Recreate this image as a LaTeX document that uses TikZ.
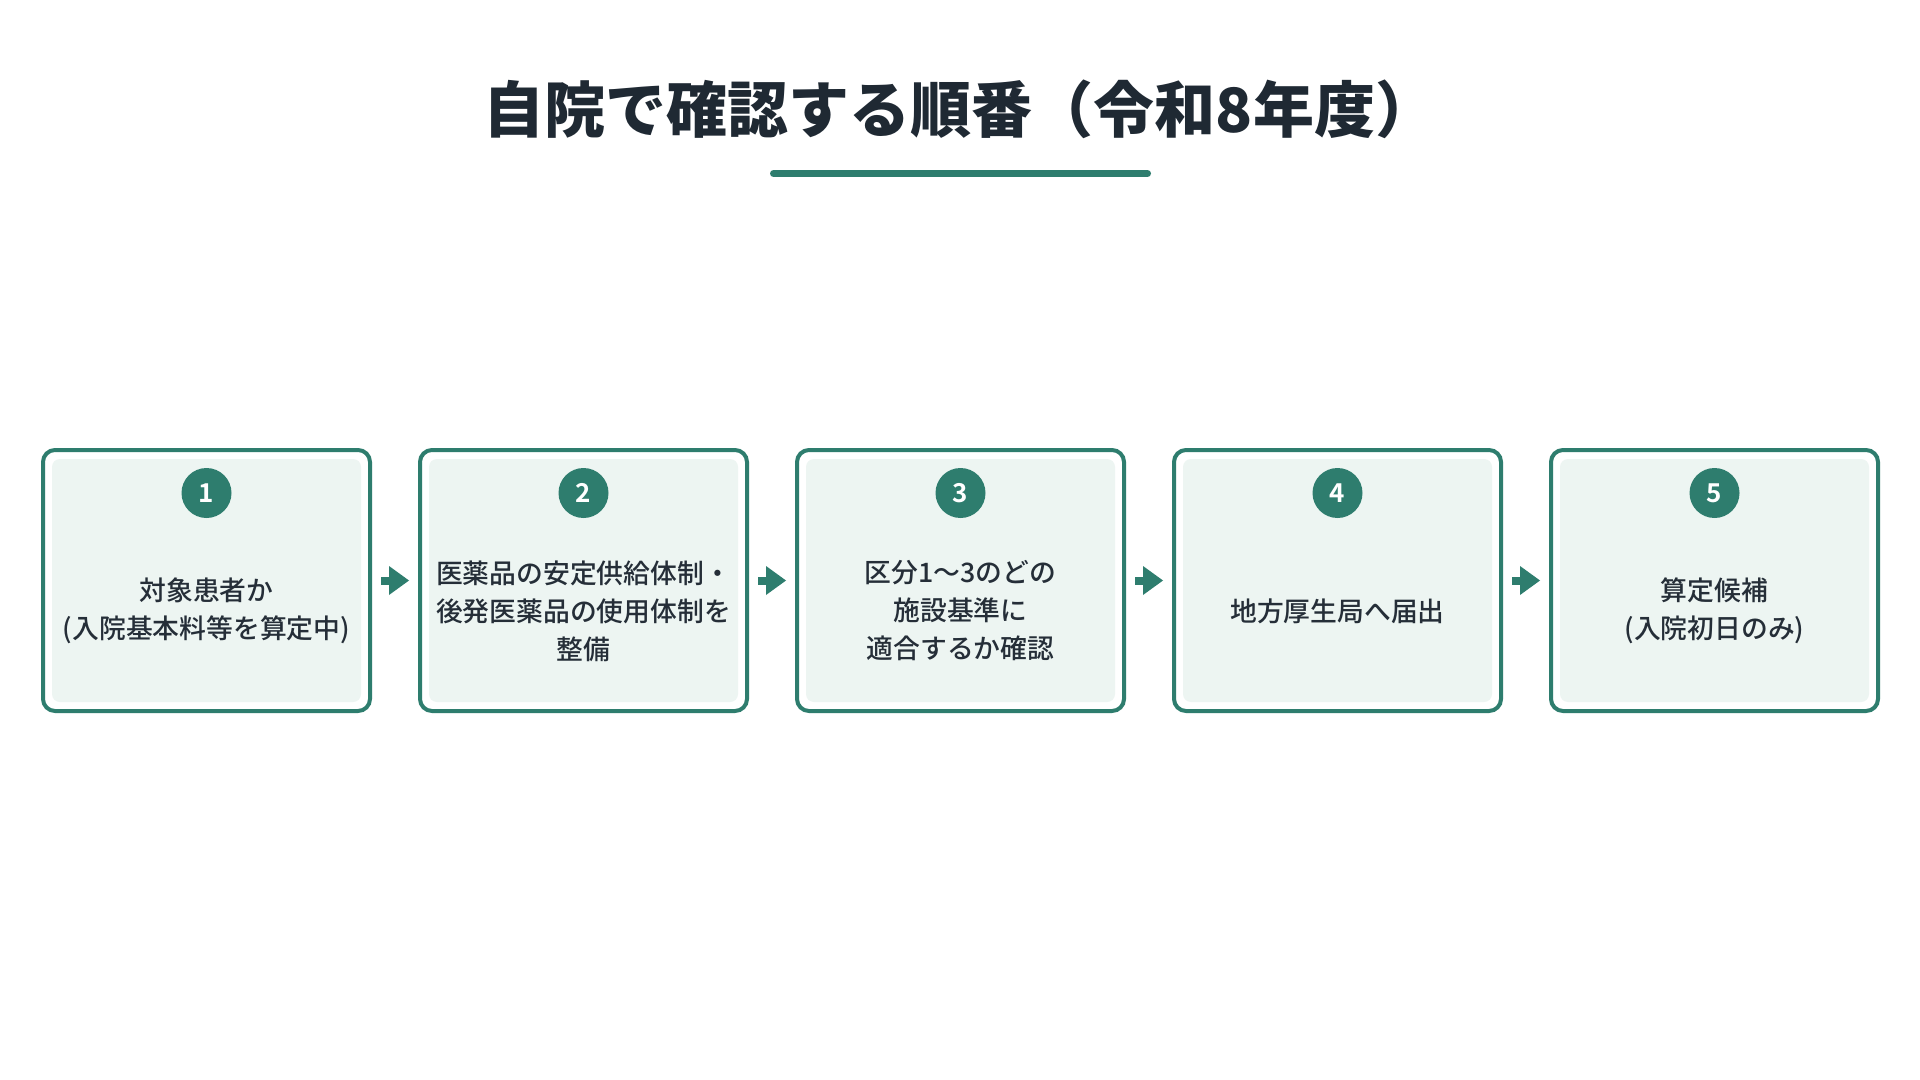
\documentclass[tikz,border=0pt]{standalone}
\usepackage{fontspec}
\setmainfont{Noto Sans CJK JP}[BoldFont={Noto Sans CJK JP Bold}]
\IfFontExistsTF{Noto Sans CJK JP Medium}
  {\newfontfamily\bodyfont{Noto Sans CJK JP Medium}}
  {\newfontfamily\bodyfont{Noto Sans CJK JP}}
\IfFontExistsTF{Noto Sans CJK JP Black}
  {\newfontfamily\headfont{Noto Sans CJK JP Black}}
  {\newfontfamily\headfont{Noto Sans CJK JP Bold}}
\usetikzlibrary{arrows.meta}
\definecolor{tealc}{HTML}{2E7D6E}
\definecolor{fillc}{HTML}{EDF5F2}
\definecolor{titlec}{HTML}{1F2933}
\definecolor{textc}{HTML}{252E38}
\begin{document}
\begin{tikzpicture}[x=0.5pt,y=-0.5pt,
  stepbox/.style={draw=tealc, line width=2pt, fill=white, rounded corners=6pt,
    minimum width=163.5pt, minimum height=130.5pt, inner sep=0pt, outer sep=0pt},
  numdot/.style={circle, fill=tealc, text=white, minimum size=25pt, inner sep=0pt,
    font=\fontsize{13pt}{13pt}\selectfont\bfseries},
  steptext/.style={align=center, text=textc, inner sep=0pt,
    font=\bodyfont\fontsize{13.4pt}{19pt}\selectfont},
  flow/.style={draw=tealc, line width=4pt, shorten <=5.5pt, shorten >=5.5pt,
    -{Triangle[length=10pt,width=14.5pt,line width=0pt]}},
  titlestyle/.style={text=titlec, inner sep=0pt, font=\headfont\fontsize{30.5pt}{36pt}\selectfont}
]
\useasboundingbox[fill=white] (0,0) rectangle (1920,1080);

\node[titlestyle] (title) at (960,109) {自院で確認する順番（令和8年度）};
\coordinate (ulA) at (773.5,173.5);
\coordinate (ulB) at (1147.5,173.5);
\draw[tealc, line width=3.5pt, line cap=round] (ulA) -- (ulB);

\foreach \i/\t in {1/{対象患者か\\(入院基本料等を算定中)},
                   2/{医薬品の安定供給体制・\\後発医薬品の使用体制を\\整備},
                   3/{区分1～3のどの\\施設基準に\\適合するか確認},
                   4/{地方厚生局へ届出},
                   5/{算定候補\\(入院初日のみ)}} {
  \pgfmathsetmacro{\xc}{206.5+377*(\i-1)}
  \node[stepbox] (b\i) at (\xc,580.5) {};
  \fill[fillc, rounded corners=4pt] ([shift={(9,9)}]b\i.north west) rectangle ([shift={(-9,-9)}]b\i.south east);
  \node[numdot] (n\i) at (\xc,493) {\i};
  \node[steptext] (t\i) at (\xc,611) {\t};
}
\foreach \i/\j in {1/2,2/3,3/4,4/5} {
  \draw[flow] (b\i) -- (b\j);
}
\end{tikzpicture}
\end{document}
